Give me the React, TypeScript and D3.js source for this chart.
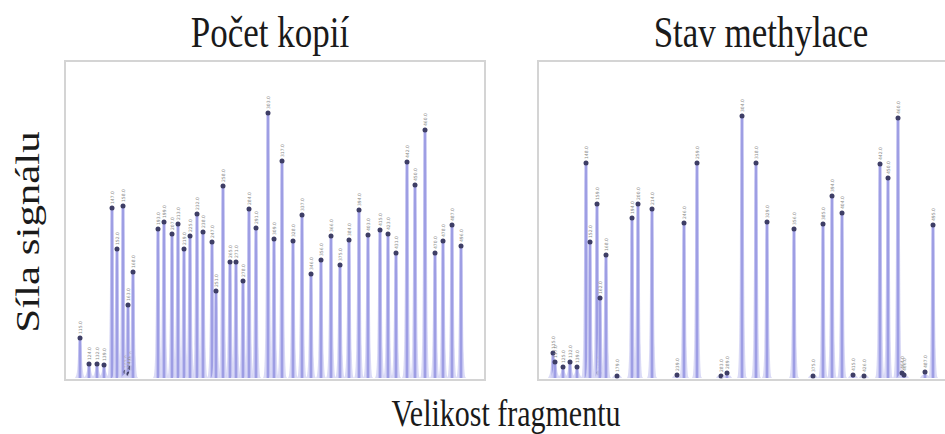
import React from 'react';
import * as d3 from 'd3';

// fragment sizes (nt) and signal heights
const copySizes = [115, 124, 132, 139, 147, 152, 158, 161, 163, 164, 166, 168,
  193, 199, 207, 213, 219, 225, 232, 238, 247, 251, 258, 265, 271, 278, 284, 291,
  303, 309, 317, 328, 337, 346, 356, 366, 375, 384, 394, 403, 415, 423, 431, 442,
  450, 460, 470, 478, 487, 496];
const copySignal = [40, 14, 14, 13, 170, 129, 172, 6, 73, 4, 10, 106,
  149, 156, 144, 154, 129, 142, 164, 146, 136, 87, 192, 116, 116, 97, 169, 150,
  265, 139, 217, 137, 163, 104, 118, 142, 113, 138, 168, 143, 148, 144, 125, 216,
  193, 248, 125, 137, 153, 132];

const methSizes = [115, 117, 125, 132, 139, 148, 152, 159, 161, 162, 168, 179,
  194, 200, 214, 239, 246, 259, 283, 289, 304, 318, 329, 356, 375, 385, 394, 404,
  415, 426, 442, 450, 460, 464, 466, 487, 495];
const methSignal = [25, 16, 11, 16, 11, 215, 136, 174, 5, 80, 123, 2,
  160, 174, 169, 3, 155, 215, 2, 5, 262, 215, 156, 149, 2, 154, 182, 165,
  3, 2, 214, 200, 260, 5, 3, 6, 153];

const panelTitles = ['Počet kopií', 'Stav methylace'];
const yTitle = 'Síla signálu';
const xTitle = 'Velikost fragmentu';

const W = 945;
const H = 434;
const panelW = 420;
const top = 62;
const bottom = 378;
const serif = "'Liberation Serif', 'DejaVu Serif', serif";

function Panel(props: { left: number; title: string; sizes: number[]; signal: number[]; titleX: number }) {
  const { left, title, sizes, signal, titleX } = props;
  const x = d3.scaleLinear().domain([100, 520]).range([left, left + panelW]);
  const y = d3.scaleLinear().domain([0, 316]).range([bottom, top]);
  const foot = d3.area<[number, number]>()
    .x(d => d[0])
    .y0(bottom)
    .y1(d => d[1])
    .curve(d3.curveBasis);
  return (
    <g>
      <text transform={`translate(${titleX},47) scale(1,1.25)`} textAnchor="middle" fontFamily={serif}
        fontSize={35} fill="#1a1a1a">{title}</text>
      <rect x={left} y={top - 1} width={panelW} height={bottom - top + 3} fill="none" stroke="#d4d4d4" strokeWidth={2} />
      {sizes.map((s, i) => {
        const px = x(s);
        const py = y(signal[i]);
        const footPts: [number, number][] = [
          [px - 5, bottom], [px - 2.5, bottom - 4], [px - 1.6, py + 4], [px, py],
          [px + 1.6, py + 4], [px + 2.5, bottom - 4], [px + 5, bottom]];
        return (
          <g key={i}>
            <path d={foot(footPts) || ''} fill="#d4d4f5" opacity={0.85} />
            <line x1={px} x2={px} y1={bottom} y2={py} stroke="#a8a8ea" strokeWidth={3} />
            <line x1={px} x2={px} y1={bottom} y2={py} stroke="#9090da" strokeWidth={0.8} />
            <circle cx={px} cy={py} r={2.5} fill="#3e3e66" />
            <text transform={`translate(${px + 1.6},${py - 4}) rotate(-90)`} fontSize={4.5}
              fontFamily="'DejaVu Sans', sans-serif" fill="#8a8a8a">{s.toFixed(1)}</text>
          </g>
        );
      })}
    </g>
  );
}

export default function App() {
  return (
    <svg width={W} height={H} style={{ position: 'absolute', left: 0, top: 0, background: '#fff' }}>
      <Panel left={65} title={panelTitles[0]} sizes={copySizes} signal={copySignal} titleX={270} />
      <Panel left={538} title={panelTitles[1]} sizes={methSizes} signal={methSignal} titleX={761} />
      <text transform="translate(39,232) rotate(-90) scale(1.3,1)" textAnchor="middle"
        fontFamily={serif} fontSize={33} fill="#1a1a1a">{yTitle}</text>
      <text transform="translate(506,426) scale(1,1.25)" textAnchor="middle" fontFamily={serif}
        fontSize={30} fill="#1a1a1a">{xTitle}</text>
    </svg>
  );
}
